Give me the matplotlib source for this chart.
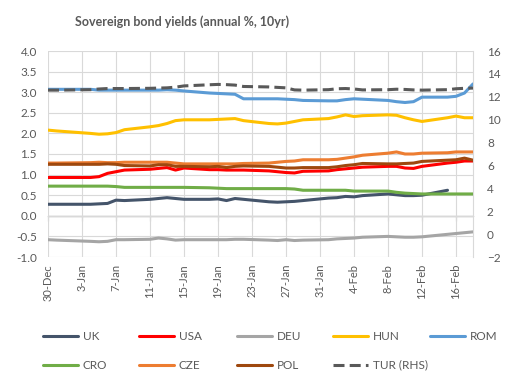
import numpy as np
import pandas as pd
import matplotlib
matplotlib.use("Agg")
import matplotlib.pyplot as plt
import matplotlib.dates as mdates

plt.rcParams['font.family'] = ['Lato', 'DejaVu Sans']

dates = ["2020-12-30", "2020-12-31", "2021-01-04", "2021-01-05", "2021-01-06", "2021-01-07",
         "2021-01-08", "2021-01-11", "2021-01-12", "2021-01-13", "2021-01-14", "2021-01-15",
         "2021-01-18", "2021-01-19", "2021-01-20", "2021-01-21", "2021-01-22", "2021-01-25",
         "2021-01-26", "2021-01-27", "2021-01-28", "2021-01-29", "2021-02-01", "2021-02-02",
         "2021-02-03", "2021-02-04", "2021-02-05", "2021-02-08", "2021-02-09", "2021-02-10",
         "2021-02-11", "2021-02-12", "2021-02-15", "2021-02-16", "2021-02-17", "2021-02-18"]

uk = [.28, .28, .28, .29, .30, .38, .37, .40, .42, .44, .42, .40, .40, .41, .37, .42, .40, .34,
      .33, .34, .35, .37, .43, .44, .47, .46, .49, .53, .51, .49, .49, .50, .62, np.nan, np.nan, np.nan]
usa = [.93, .93, .93, .95, 1.03, 1.07, 1.11, 1.13, 1.15, 1.17, 1.11, 1.16, 1.12, 1.12, 1.11, 1.11, 1.11, 1.09,
       1.07, 1.05, 1.04, 1.08, 1.09, 1.12, 1.14, 1.16, 1.18, 1.20, 1.20, 1.16, 1.15, 1.20, 1.28, 1.30, 1.33, 1.33]
deu = [-.58, -.59, -.62, -.63, -.62, -.58, -.58, -.57, -.54, -.56, -.59, -.58, -.58, -.58, -.58, -.57, -.57, -.59,
       -.60, -.58, -.60, -.59, -.58, -.56, -.55, -.54, -.52, -.50, -.51, -.52, -.52, -.51, -.45, -.43, -.41, -.39]
hun = [2.08, 2.06, 2.00, 1.98, 1.99, 2.02, 2.09, 2.16, 2.19, 2.24, 2.31, 2.33, 2.33, 2.34, 2.35, 2.36, 2.31, 2.24,
       2.23, 2.25, 2.29, 2.33, 2.36, 2.40, 2.45, 2.41, 2.43, 2.45, 2.44, 2.38, 2.33, 2.29, 2.38, 2.42, 2.38, 2.38]
rom = [3.07, 3.07, 3.07, 3.05, 3.05, 3.05, 3.05, 3.05, 3.05, 3.06, 3.05, 3.03, 2.98, 2.97, 2.96, 2.95, 2.84, 2.84,
       2.84, 2.83, 2.82, 2.80, 2.79, 2.79, 2.82, 2.84, 2.83, 2.80, 2.77, 2.75, 2.77, 2.88, 2.88, 2.90, 2.98, 3.20]
cro = [.72, .72, .72, .72, .72, .71, .69, .69, .69, .69, .69, .69, .68, .67, .66, .66, .66, .66,
       .66, .66, .65, .62, .62, .62, .62, .60, .60, .60, .57, .55, .54, .53, .53, .53, .53, .53]
cze = [1.28, 1.28, 1.29, 1.30, 1.29, 1.29, 1.30, 1.30, 1.30, 1.30, 1.28, 1.26, 1.26, 1.26, 1.26, 1.26, 1.27, 1.28,
       1.30, 1.32, 1.33, 1.36, 1.36, 1.37, 1.40, 1.43, 1.47, 1.52, 1.55, 1.50, 1.50, 1.52, 1.53, 1.55, 1.55, 1.55]
pol = [1.25, 1.25, 1.25, 1.25, 1.26, 1.25, 1.22, 1.21, 1.24, 1.24, 1.20, 1.20, 1.19, 1.20, 1.17, 1.20, 1.21, 1.20,
       1.18, 1.16, 1.16, 1.17, 1.17, 1.19, 1.22, 1.24, 1.27, 1.26, 1.26, 1.27, 1.28, 1.32, 1.35, 1.36, 1.40, 1.35]
tur = [12.58, 12.58, 12.62, 12.68, 12.72, 12.72, 12.72, 12.74, 12.76, 12.78, 12.84, 12.95, 13.05, 13.08, 13.06,
       13.02, 12.90, 12.86, 12.82, 12.78, 12.60, 12.58, 12.62, 12.70, 12.72, 12.68, 12.60, 12.62, 12.66, 12.64,
       12.60, 12.58, 12.62, 12.70, 12.74, 12.76]

tick_dates = ["2020-12-30", "2021-01-03", "2021-01-07", "2021-01-11", "2021-01-15", "2021-01-19",
              "2021-01-23", "2021-01-27", "2021-01-31", "2021-02-04", "2021-02-08", "2021-02-12", "2021-02-16"]
tick_labels = ["30-Dec", "3-Jan", "7-Jan", "11-Jan", "15-Jan", "19-Jan", "23-Jan", "27-Jan",
               "31-Jan", "4-Feb", "8-Feb", "12-Feb", "16-Feb"]

series = [("UK", uk, "#44546A"), ("USA", usa, "#FF0000"), ("DEU", deu, "#A5A5A5"),
          ("HUN", hun, "#FFC000"), ("ROM", rom, "#5B9BD5"), ("CRO", cro, "#70AD47"),
          ("CZE", cze, "#ED7D31"), ("POL", pol, "#9E480E")]

x = mdates.date2num(pd.to_datetime(dates))
xt = mdates.date2num(pd.to_datetime(tick_dates))
x0 = xt[0]
x1 = mdates.date2num(pd.Timestamp("2021-02-18"))

W, H = 517, 382
fig = plt.figure(figsize=(W / 100, H / 100), dpi=100)
L, R, T, B = 48, 473, 51, 257
ax = fig.add_axes([L / W, 1 - B / H, (R - L) / W, (B - T) / H])

txt = "#595959"
grid = "#D9D9D9"
LW = 2.2

handles = []
for name, vals, col in series:
    h, = ax.plot(x, vals, color=col, lw=LW, solid_capstyle='round', solid_joinstyle='round', label=name, zorder=3)
    handles.append(h)

ax.set_xlim(x0, x1)
ax.set_ylim(-1, 4)
ax.set_yticks(np.arange(-1, 4.01, 0.5))
ax.yaxis.set_major_formatter(matplotlib.ticker.FormatStrFormatter('%.1f'))
ax.set_xticks(xt)
ax.set_xticklabels(tick_labels, rotation=90)
ax.tick_params(axis='x', length=0, pad=5, labelsize=8, labelcolor=txt)
ax.tick_params(axis='y', length=0, pad=8, labelsize=8.5, labelcolor=txt)
ax.grid(True, color=grid, lw=0.8, zorder=0)
ax.set_axisbelow(True)
for s in ['top', 'left', 'bottom']:
    ax.spines[s].set_visible(False)
ax.spines['right'].set_color(grid)
ax.spines['right'].set_linewidth(0.8)

# horizontal axis line at y=0 with tick marks
loc0 = (0 - ax.get_ylim()[0]) / (ax.get_ylim()[1] - ax.get_ylim()[0])
sec = ax.secondary_xaxis(loc0)
sec.set_xticks(xt)
sec.set_xticklabels([])
sec.tick_params(axis='x', direction='out', length=3.5, width=0.8, color="#868686")
sec.spines['bottom'].set_color("#868686")
sec.spines['bottom'].set_linewidth(0.9)

ax2 = ax.twinx()
h2, = ax2.plot(x, tur, color="#595959", lw=LW, dashes=(3.6, 1.7), dash_capstyle='butt', label="TUR (RHS)", zorder=3)
handles.append(h2)
ax2.set_ylim(-2, 16)
ax2.set_yticks(np.arange(-2, 16.1, 2))
ax2.tick_params(axis='y', length=0, pad=10, labelsize=8.5, labelcolor=txt)
for s in ax2.spines.values():
    s.set_visible(False)
ax2.set_xlim(x0, x1)

fig.text(75 / W, 1 - 22 / H, "Sovereign bond yields (annual %, 10yr)", fontsize=9, fontweight='bold',
         color=txt, ha='left', va='center')

# legend: 5 columns, 2 rows
col_x = [43, 139, 237, 333, 430]
order = [[0, 5], [1, 6], [2, 7], [3, 8], [4]]
for cx, idxs in zip(col_x, order):
    fig.legend([handles[i] for i in idxs], [handles[i].get_label() for i in idxs],
               loc='upper left', bbox_to_anchor=(cx / W, 1 - 331 / H), frameon=False,
               fontsize=8.5, handlelength=3.0, handletextpad=0.35, labelspacing=1.5,
               borderpad=0, borderaxespad=0, labelcolor=txt)

fig.savefig("out.png", dpi=100)
